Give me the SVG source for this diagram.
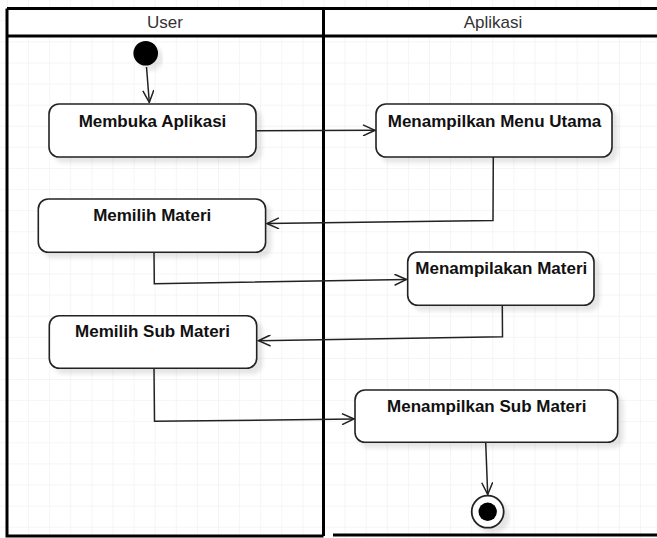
<svg xmlns="http://www.w3.org/2000/svg" width="657" height="538" viewBox="0 0 657 538">
  <style>
    .lane { fill: none; stroke: #000; stroke-width: 3; }
    .hdr { font-family: "Liberation Sans", Arial, sans-serif; font-size: 17px; fill: #333; text-anchor: middle; }
    .box { fill: #fff; stroke: #222; stroke-width: 1.6; filter: url(#sh); }
    .lbl { font-family: "Liberation Sans", Arial, sans-serif; font-size: 17px; font-weight: bold; fill: #111; text-anchor: middle; }
    .edge { fill: none; stroke: #222; stroke-width: 1.5; marker-end: url(#arr); }
  </style>
  <defs>
    <pattern id="grid" patternUnits="userSpaceOnUse" x="7" y="-0.8" width="21.1" height="21.1">
      <path d="M0,0 H21.1 M0,0 V21.1" fill="none" stroke="#ebebeb" stroke-width="1"/>
    </pattern>
    <filter id="sh" x="-10%" y="-10%" width="130%" height="140%">
      <feDropShadow dx="5" dy="5" stdDeviation="2" flood-color="#000" flood-opacity="0.1"/>
    </filter>
    <marker id="arr" viewBox="0 0 14 12" markerWidth="14" markerHeight="12" refX="13" refY="6" orient="auto" markerUnits="userSpaceOnUse">
      <path d="M1,0.5 L13,6 L1,11.5" fill="none" stroke="#222" stroke-width="1.5"/>
    </marker>
  </defs>

  <rect x="0" y="0" width="657" height="538" fill="#fff"/>
  <rect x="0" y="0" width="657" height="538" fill="url(#grid)"/>

  <g id="lanes">
    <rect x="7" y="8.5" width="660" height="28" fill="#fff"/>
    <path class="lane" d="M7,8.5 H660 M7,36 H660 M7,8.5 V536 H323.5 M323.5,8.5 V536 M333,535 H660"/>
    <text class="hdr" x="165" y="27.5">User</text>
    <text class="hdr" x="493" y="27.5">Aplikasi</text>
  </g>

  <g id="connectors">
    <path class="edge" d="M146.5,67 L149.3,102.5"/>
    <path class="edge" d="M256,130.7 L375,130.3"/>
    <path class="edge" d="M493.3,157 L493,220.5 L267,223.5"/>
    <path class="edge" d="M154,252.5 L154.3,283.7 L406.5,279.5"/>
    <path class="edge" d="M502.3,305.5 L502.5,336.7 L258.5,340.7"/>
    <path class="edge" d="M154,368.5 L154.5,421.3 L354,419"/>
    <path class="edge" d="M485.7,442.5 L487.7,494.5"/>
  </g>

  <g id="start">
    <circle cx="145.7" cy="53.3" r="12.3" fill="#000" filter="url(#sh)"/>
  </g>

  <g id="membuka-aplikasi">
    <rect class="box" x="49" y="104" width="207" height="53" rx="10"/>
    <text class="lbl" x="152.5" y="126.7">Membuka Aplikasi</text>
  </g>

  <g id="menampilkan-menu-utama">
    <rect class="box" x="376" y="104" width="236" height="53" rx="10"/>
    <text class="lbl" x="494.5" y="126.7">Menampilkan Menu Utama</text>
  </g>

  <g id="memilih-materi">
    <rect class="box" x="38.3" y="199" width="227.3" height="53.3" rx="10"/>
    <text class="lbl" x="152.2" y="221">Memilih Materi</text>
  </g>

  <g id="menampilakan-materi">
    <rect class="box" x="407.7" y="252" width="186.3" height="53.3" rx="10"/>
    <text class="lbl" x="501.3" y="274.3">Menampilakan Materi</text>
  </g>

  <g id="memilih-sub-materi">
    <rect class="box" x="49.3" y="315.7" width="207.4" height="52.6" rx="10"/>
    <text class="lbl" x="152.5" y="337.3">Memilih Sub Materi</text>
  </g>

  <g id="menampilkan-sub-materi">
    <rect class="box" x="355" y="390" width="262.7" height="52.3" rx="10"/>
    <text class="lbl" x="486.7" y="412.3">Menampilkan Sub Materi</text>
  </g>

  <g id="end">
    <circle cx="487.7" cy="511.7" r="16" fill="#fff" stroke="#222" stroke-width="1.8" filter="url(#sh)"/>
    <circle cx="487.7" cy="511.7" r="9.2" fill="#000"/>
  </g>
</svg>
